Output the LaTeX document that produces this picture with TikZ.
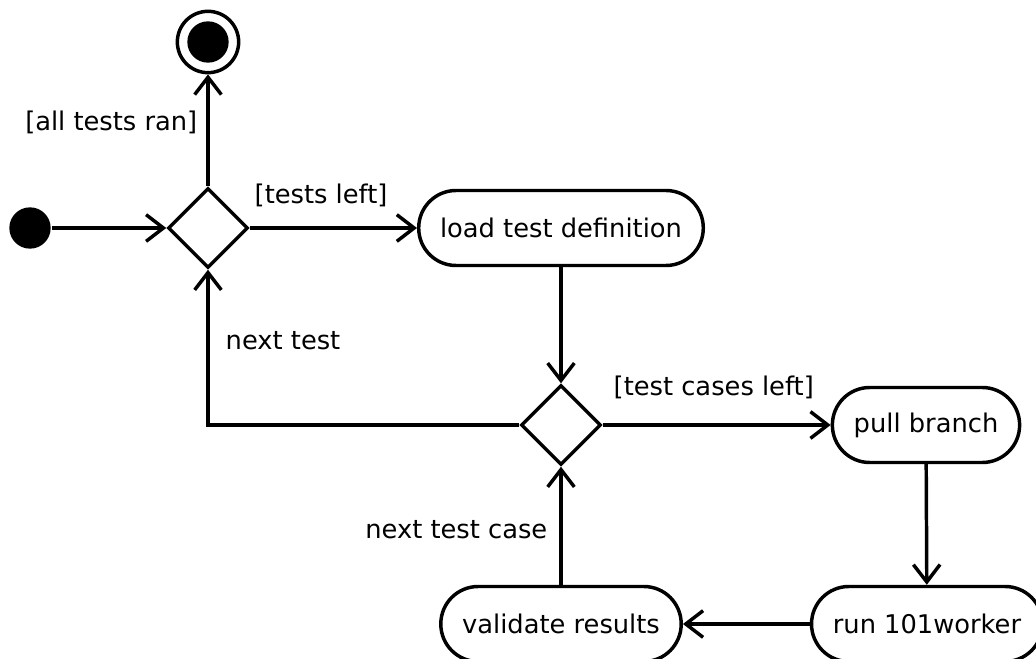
\documentclass[tikz,border=0pt]{standalone}
\usepackage{fontspec}
\setmainfont{DejaVu Sans}
\usetikzlibrary{shapes.geometric,arrows.meta}

\tikzset{every picture/.style={line width=2.6pt}}
\tikzset{
	action/.style={draw, rectangle, rounded corners=28pt, minimum height=56.25pt, inner xsep=16pt, font=\fontsize{19.3}{23}\selectfont},
	decision/.style={draw, diamond, minimum width=60pt, minimum height=60pt, inner sep=0pt},
	guard/.style={inner sep=0.75pt, font=\fontsize{19.3}{23}\selectfont},
	flow/.style={-{Straight Barb[length=13pt,width=20pt,line width=2.6pt]}}
}

\begin{document}
\begin{tikzpicture}[x=0.75pt,y=0.75pt,yscale=-1,xscale=1]
	\useasboundingbox (0,0) rectangle (1036,659);
	
	%Shape: Circle [id:initial]
	\node [circle, fill=black, minimum size=31pt, inner sep=0pt] (start) at (30,228) {};
	%Shape: Circle [id:final]
	\node [circle, draw, minimum size=46pt, inner sep=0pt] (final) at (208,42) {};
	\node [circle, fill=black, minimum size=31pt, inner sep=0pt] at (208,42) {};
	%Shape: Diamond [id:tests]
	\node [decision] (dtests) at (208,228) {};
	%Shape: Diamond [id:cases]
	\node [decision] (dcases) at (561,425) {};
	
	% Action Nodes
	\node [action] (load) at (561,228) {load test definition};
	\node [action] (pull) at (926,425) {pull branch};
	\node [action] (run) at (927,624) {run 101worker};
	\node [action] (validate) at (561,624) {validate results};
	
	%Straight Lines
	\draw [flow] (start) -- (dtests.west);
	\draw [flow] (dtests.north) -- (final);
	\draw [flow] (dtests.east) -- (load);
	\draw [flow] (load) -- (dcases.north);
	\draw [flow] (dcases.east) -- (pull);
	\draw [flow] (pull) -- (run);
	\draw [flow] (run) -- (validate);
	\draw [flow] (validate) -- (dcases.south);
	\draw [flow] (dcases.west) -| (dtests.south);
	
	% Text Node
	\node [guard, anchor=east] (ran) at (200,122) {[all tests ran]};
	% Text Node
	\node [guard, anchor=west] (left) at (252,195) {[tests left]};
	% Text Node
	\node [guard, anchor=west] (nexttest) at (223,341) {next test};
	% Text Node
	\node [guard, anchor=west] (caseleft) at (611,387) {[test cases left]};
	% Text Node
	\node [guard, anchor=east] (nextcase) at (550,530) {next test case};
	
\end{tikzpicture}
\end{document}
